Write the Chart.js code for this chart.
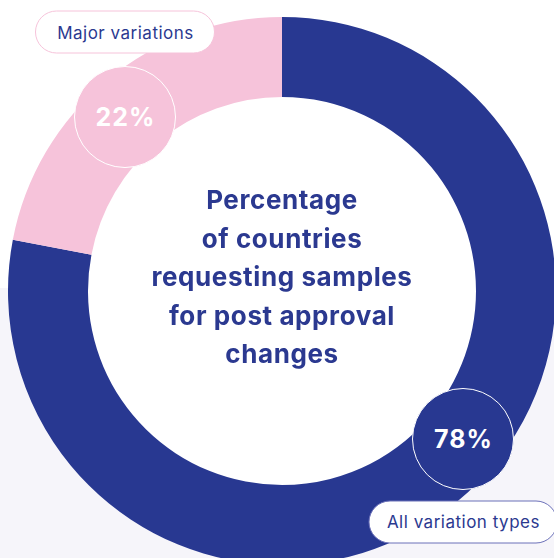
<!DOCTYPE html>
<html lang="en">
<head>
    <meta charset="UTF-8">
    <title>Post approval changes</title>
    <script src="https://cdn.jsdelivr.net/npm/chart.js@4.4.1/dist/chart.umd.min.js"></script>
    <style>
        :root {
            --blue: #283891;
            --pink: #f6c3da;
            --text: #2b3990;
        }

        body {
            margin: 0;
            width: 554px;
            height: 558px;
            overflow: hidden;
            position: relative;
            font-family: Inter, "Liberation Sans", sans-serif;
            background: linear-gradient(to bottom, #ffffff 0, #ffffff 288px, #f6f5fa 288px);
        }

        .chart-box {
            position: absolute;
            left: 8px;
            top: 17px;
            width: 548px;
            height: 548px;
        }

        .title {
            position: absolute;
            left: 62px;
            top: 181px;
            width: 440px;
            text-align: center;
            font-size: 26px;
            font-weight: 700;
            letter-spacing: 0.6px;
            line-height: 38.5px;
            color: var(--text);
        }

        .badge {
            position: absolute;
            width: 102px;
            height: 102px;
            box-sizing: border-box;
            border: 1.5px solid #ffffff;
            border-radius: 50%;
            color: #ffffff;
            font-size: 25px;
            font-weight: 700;
            letter-spacing: 1px;
            display: flex;
            align-items: center;
            justify-content: center;
            transform: translate(-50%, -50%);
        }

        .pill {
            position: absolute;
            height: 43px;
            box-sizing: border-box;
            border-radius: 22px;
            background: #ffffff;
            color: var(--text);
            font-size: 17px;
            letter-spacing: 0.5px;
            display: flex;
            align-items: center;
            justify-content: center;
            transform: translate(-50%, -50%);
        }
    </style>
</head>
<body>
    <div class="chart-box">
        <canvas id="donut"></canvas>
    </div>

    <div class="title">Percentage<br>of countries<br>requesting samples<br>for post approval<br>changes</div>

    <div class="badge" id="badge0"></div>
    <div class="badge" id="badge1"></div>
    <div class="pill" id="pill0"></div>
    <div class="pill" id="pill1"></div>

    <script>
        const categories = ['All variation types', 'Major variations'];
        const shares = [78, 22];
        const segmentColors = ['#283891', '#f6c3da'];

        // where each badge sits inside its arc (0 = start, 1 = end)
        const badgeAt = [0.46, 0.47];
        // pill offset from its badge, and pill look
        const pillOffset = [83, -85];
        const pillWidth = [189, 180];
        const pillBorder = ['#6b70b8', '#f6c3da'];

        const boxLeft = 8;
        const boxTop = 17;

        // white disc in the hole so the page tint doesn't show through
        const holePlugin = {
            id: 'hole',
            beforeDatasetsDraw(chart) {
                const arc = chart.getDatasetMeta(0).data[0];
                if (!arc) return;
                const p = arc.getProps(['x', 'y', 'innerRadius'], true);
                const ctx = chart.ctx;
                ctx.save();
                ctx.fillStyle = '#ffffff';
                ctx.beginPath();
                ctx.arc(p.x, p.y, p.innerRadius + 1, 0, Math.PI * 2);
                ctx.fill();
                ctx.restore();
            }
        };

        const badgePlugin = {
            id: 'badges',
            afterDraw(chart) {
                const arcs = chart.getDatasetMeta(0).data;
                arcs.forEach((arc, i) => {
                    const p = arc.getProps(['x', 'y', 'startAngle', 'endAngle', 'innerRadius', 'outerRadius'], true);
                    const a = p.startAngle + badgeAt[i] * (p.endAngle - p.startAngle);
                    const r = (p.innerRadius + p.outerRadius) / 2;
                    const bx = boxLeft + p.x + r * Math.cos(a);
                    const by = boxTop + p.y + r * Math.sin(a);

                    const badge = document.getElementById('badge' + i);
                    badge.textContent = shares[i] + '%';
                    badge.style.background = segmentColors[i];
                    badge.style.left = bx + 'px';
                    badge.style.top = by + 'px';

                    const pill = document.getElementById('pill' + i);
                    pill.textContent = categories[i];
                    pill.style.width = pillWidth[i] + 'px';
                    pill.style.border = '1.5px solid ' + pillBorder[i];
                    pill.style.left = bx + 'px';
                    pill.style.top = (by + pillOffset[i]) + 'px';
                });
            }
        };

        new Chart(document.getElementById('donut'), {
            type: 'doughnut',
            data: {
                labels: categories,
                datasets: [{
                    data: shares,
                    backgroundColor: segmentColors,
                    borderWidth: 0
                }]
            },
            options: {
                responsive: true,
                maintainAspectRatio: false,
                animation: false,
                cutout: '70.8%',
                layout: { padding: 0 },
                plugins: {
                    legend: { display: false },
                    tooltip: { enabled: false }
                }
            },
            plugins: [holePlugin, badgePlugin]
        });
    </script>
</body>
</html>
